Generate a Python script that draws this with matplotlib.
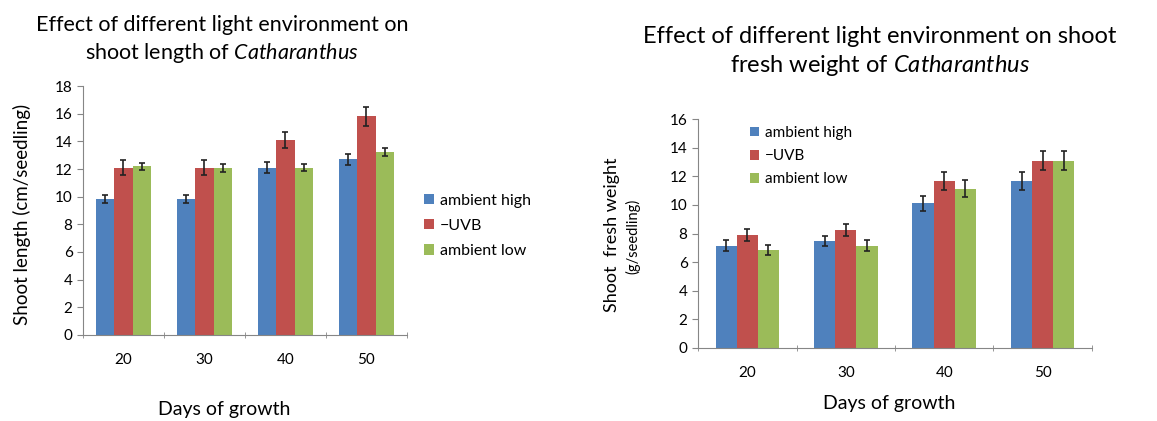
import numpy as np
import matplotlib
matplotlib.use("Agg")
import matplotlib.pyplot as plt

plt.rcParams["font.family"] = ["Lato", "DejaVu Sans"]
plt.rcParams["mathtext.fontset"] = "custom"
plt.rcParams["mathtext.rm"] = "Lato"
plt.rcParams["mathtext.it"] = "Lato:italic"

days = ["20", "30", "40", "50"]
treatments = ["ambient high", "\u2212UVB", "ambient low"]
colors = ["#4F81BD", "#C0504D", "#9BBB59"]

# shoot length (cm/seedling)
length_high = [9.8, 9.8, 12.1, 12.7]
length_uvb = [12.1, 12.1, 14.1, 15.8]
length_low = [12.2, 12.1, 12.1, 13.2]
length_high_err = [0.29, 0.29, 0.41, 0.42]
length_uvb_err = [0.52, 0.52, 0.60, 0.66]
length_low_err = [0.27, 0.29, 0.23, 0.29]

# shoot fresh weight (g/seedling)
weight_high = [7.16, 7.5, 10.1, 11.67]
weight_uvb = [7.88, 8.23, 11.67, 13.1]
weight_low = [6.88, 7.16, 11.14, 13.1]
weight_high_err = [0.37, 0.36, 0.52, 0.60]
weight_uvb_err = [0.43, 0.43, 0.60, 0.64]
weight_low_err = [0.35, 0.38, 0.60, 0.64]

axis_grey = "#868686"
W, H = 1157, 421


def px(x, y):
    # pixel position from the top-left corner -> figure fraction
    return x / W, 1 - y / H


def draw_bars(ax, series, errors, width):
    x = np.arange(len(days))
    for i, (vals, errs) in enumerate(zip(series, errors)):
        ax.bar(x + (i - 1) * width, vals, width, color=colors[i],
               label=treatments[i], zorder=2,
               yerr=errs, error_kw=dict(ecolor="#222222", elinewidth=1.2,
                                        capsize=2.5, capthick=1.2))
    ax.set_xlim(-0.5, len(days) - 0.5)
    ax.set_xticks(x)
    ax.set_xticklabels(days, fontsize=11)
    ax.set_xticks(np.arange(len(days) + 1) - 0.5, minor=True)
    ax.tick_params(axis="x", which="major", length=0, pad=13)
    ax.tick_params(axis="x", which="minor", direction="inout", length=5,
                   color=axis_grey)
    ax.tick_params(axis="y", direction="out", length=4, color=axis_grey,
                   labelsize=11)
    for s in ["top", "right"]:
        ax.spines[s].set_visible(False)
    for s in ["left", "bottom"]:
        ax.spines[s].set_color(axis_grey)


fig = plt.figure(figsize=(W / 100, H / 100), dpi=100)

# left panel: shoot length
ax1 = fig.add_axes([0.0717, 0.2043, 0.2800, 0.5914])
draw_bars(ax1, [length_high, length_uvb, length_low],
          [length_high_err, length_uvb_err, length_low_err], 0.225)
ax1.set_ylim(0, 18)
ax1.set_yticks(np.arange(0, 19, 2))
fig.text(*px(22, 214), "Shoot length (cm/seedling)", rotation=90,
         ha="center", va="center", fontsize=13.5)
fig.text(*px(224, 409), "Days of growth", ha="center", va="center",
         fontsize=14)
ax1.legend(loc="center left", bbox_to_anchor=px(424, 226),
           bbox_transform=fig.transFigure, frameon=False, fontsize=11.5,
           handlelength=0.6, handleheight=0.6, handletextpad=0.4,
           labelspacing=0.7, borderpad=0, borderaxespad=0)
fig.text(*px(222, 40),
         "Effect of different light environment on\nshoot length of $\\mathit{Catharanthus}$",
         ha="center", va="center", fontsize=15.5, linespacing=1.3)

# right panel: shoot fresh weight
ax2 = fig.add_axes([0.6033, 0.1734, 0.3405, 0.5439])
draw_bars(ax2, [weight_high, weight_uvb, weight_low],
          [weight_high_err, weight_uvb_err, weight_low_err], 0.215)
ax2.set_ylim(0, 16)
ax2.set_yticks(np.arange(0, 17, 2))
fig.text(*px(889, 403), "Days of growth", ha="center", va="center",
         fontsize=14)
ax2.legend(loc="upper left", bbox_to_anchor=px(750, 126),
           bbox_transform=fig.transFigure, frameon=False, fontsize=11,
           handlelength=0.6, handleheight=0.6, handletextpad=0.4,
           labelspacing=0.6, borderpad=0, borderaxespad=0)
fig.text(*px(612, 235), "Shoot  fresh weight", rotation=90,
         ha="center", va="center", fontsize=13)
fig.text(*px(633, 236), "(g/seedling)", rotation=90,
         ha="center", va="center", fontsize=10.5)
fig.text(*px(880, 52),
         "Effect of different light environment on shoot\nfresh weight of $\\mathit{Catharanthus}$",
         ha="center", va="center", fontsize=17, linespacing=1.3)

fig.savefig("out.png", dpi=100)
